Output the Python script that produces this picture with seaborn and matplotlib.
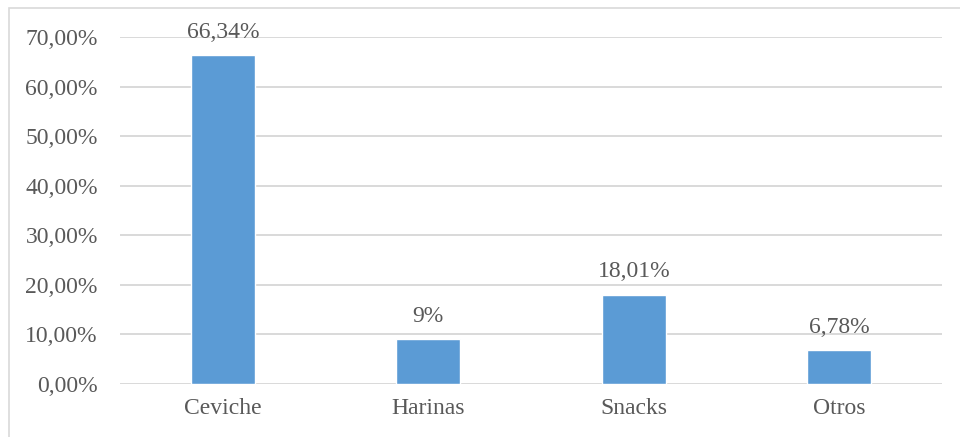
import matplotlib
matplotlib.use("Agg")
import matplotlib.pyplot as plt
import seaborn as sns
from matplotlib.patches import Rectangle
from matplotlib.ticker import FuncFormatter, MultipleLocator

categories = ["Ceviche", "Harinas", "Snacks", "Otros"]
values = [66.34, 9, 18.01, 6.78]
y_max = 70

bar_color = "#5B9BD5"
text_color = "#595959"
grid_color = "#D9D9D9"

sns.set_style("white")
plt.rcParams["font.family"] = ["Liberation Serif", "DejaVu Serif"]

fig = plt.figure(figsize=(9.6, 4.37), dpi=100)
ax = fig.add_axes([120 / 960, 53 / 437, 822 / 960, 347 / 437])

sns.barplot(x=categories, y=values, color=bar_color, saturation=1,
            width=0.31, ax=ax, zorder=3)

ax.set_ylim(0, y_max)
ax.yaxis.set_major_locator(MultipleLocator(10))
ax.yaxis.set_major_formatter(
    FuncFormatter(lambda v, _: f"{v:.2f}%".replace(".", ",")))
ax.grid(axis="y", color=grid_color, linewidth=1.4, zorder=0)
ax.set_axisbelow(True)
for side in ax.spines.values():
    side.set_visible(False)
ax.tick_params(axis="both", length=0, labelsize=17, labelcolor=text_color)
ax.tick_params(axis="y", pad=16)
ax.tick_params(axis="x", pad=10)
ax.set_xlabel("")
ax.set_ylabel("")


def pct_label(v):
    if float(v).is_integer():
        return f"{int(v)}%"
    return f"{v:.2f}%".replace(".", ",")


for i, v in enumerate(values):
    ax.annotate(pct_label(v), (i, v), xytext=(0, 12.5),
                textcoords="offset points", ha="center", va="baseline",
                fontsize=17, color=text_color, annotation_clip=False)

# chart frame
fig.patches.append(Rectangle((9 / 960, -0.05), 1.2, (437 - 8) / 437 + 0.05,
                             transform=fig.transFigure, fill=False,
                             edgecolor=grid_color, linewidth=1.2))

fig.savefig("out.png", dpi=100)
